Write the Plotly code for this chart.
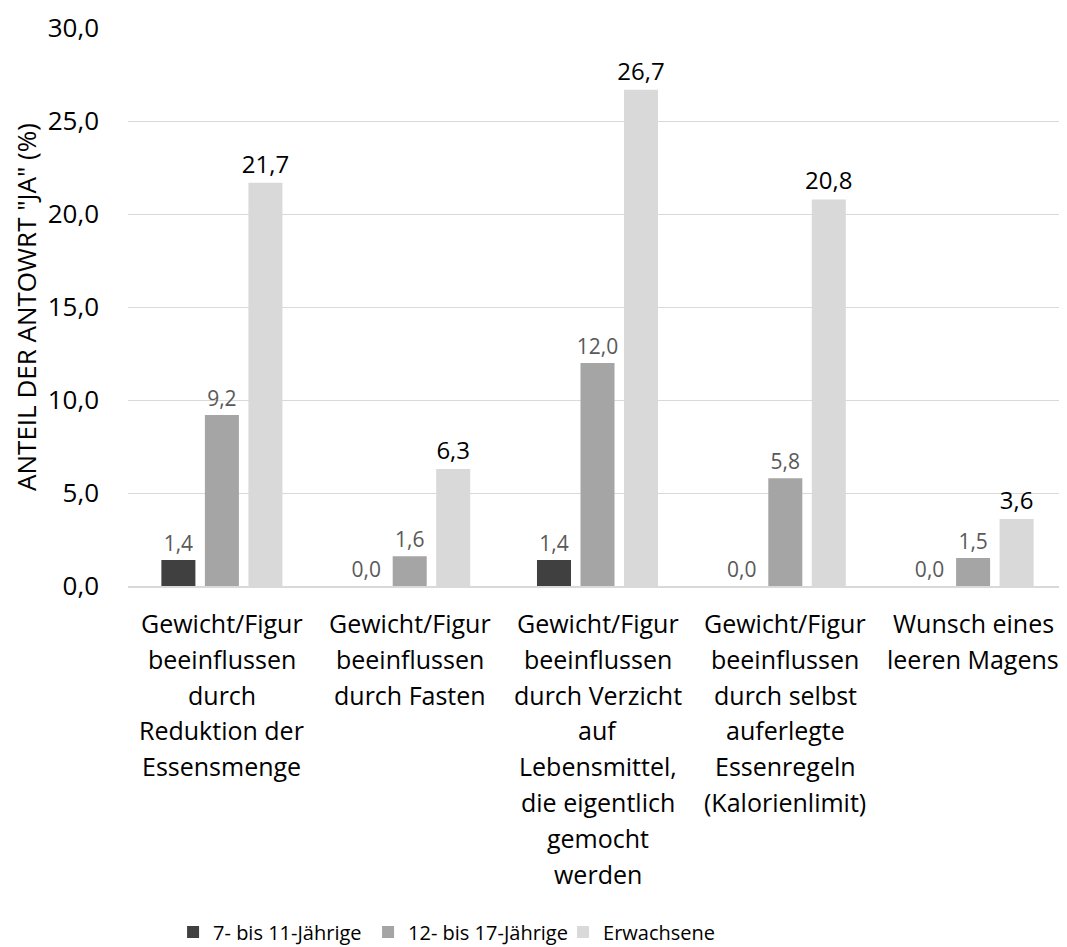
import plotly.graph_objects as go

# ---- data ----
category_lines = [
    ["Gewicht/Figur", "beeinflussen", "durch", "Reduktion der", "Essensmenge"],
    ["Gewicht/Figur", "beeinflussen", "durch Fasten"],
    ["Gewicht/Figur", "beeinflussen", "durch Verzicht", "auf", "Lebensmittel,",
     "die eigentlich", "gemocht", "werden"],
    ["Gewicht/Figur", "beeinflussen", "durch selbst", "auferlegte", "Essenregeln",
     "(Kalorienlimit)"],
    ["Wunsch eines", "leeren Magens"],
]
categories = [" ".join(l) for l in category_lines]

series_names = ["7- bis 11-Jährige", "12- bis 17-Jährige", "Erwachsene"]
kids_7_11 = [1.4, 0.0, 1.4, 0.0, 0.0]
teens_12_17 = [9.2, 1.6, 12.0, 5.8, 1.5]
adults = [21.7, 6.3, 26.7, 20.8, 3.6]

y_title = 'ANTEIL DER ANTOWRT "JA" (%)'

# ---- style ----
FONT = "Open Sans"
colors = ["#404040", "#a5a5a5", "#d9d9d9"]
label_colors = ["#595959", "#595959", "#000000"]
label_sizes = [21, 21, 24]


def fmt(v):
    return f"{v:.1f}".replace(".", ",")


fig = go.Figure()
for name, vals, c, lc, ls in zip(series_names, [kids_7_11, teens_12_17, adults],
                                 colors, label_colors, label_sizes):
    fig.add_trace(go.Bar(
        x=categories, y=vals, name=name,
        marker=dict(color=c, line=dict(width=0)),
        text=[fmt(v) for v in vals],
        textposition="outside",
        constraintext="none",
        textfont=dict(family=FONT, size=ls, color=lc),
        cliponaxis=False,
        hoverinfo="skip",
    ))

# category labels, one annotation per line for Excel-like line spacing
LINE_H = 35.8
annotations = []
for cat, lines in zip(categories, category_lines):
    for i, line in enumerate(lines):
        annotations.append(dict(
            x=cat, xref="x", y=0, yref="paper", yanchor="top",
            yshift=-(18 + i * LINE_H), text=line, showarrow=False,
            font=dict(family=FONT, size=25, color="#000000"),
        ))

# the page body has an 8px margin, so the figure is 8px smaller than the window
fig.update_layout(
    width=1059, height=939,
    margin=dict(l=120, r=0, t=20, b=361),
    paper_bgcolor="white", plot_bgcolor="white",
    separators=",.",
    barmode="group", bargap=0.305, bargroupgap=0.218,
    font=dict(family=FONT, color="#000000"),
    showlegend=True,
    legend=dict(orientation="h", x=0.048, xanchor="left",
                yref="container", y=0.016, yanchor="middle",
                font=dict(family=FONT, size=20, color="#000000"),
                entrywidth=150, itemsizing="constant"),
    annotations=annotations,
)
fig.update_xaxes(showticklabels=False, showgrid=False, ticks="",
                 showline=True, linecolor="#d9d9d9", linewidth=1.5, zeroline=False)
fig.update_yaxes(range=[0, 30.02], tickvals=[0, 5, 10, 15, 20, 25, 30], tickformat=".1f",
                 showgrid=True, gridcolor="#d9d9d9", gridwidth=1.3,
                 zeroline=False, showline=False, ticks="",
                 ticklabelstandoff=28,
                 tickfont=dict(family=FONT, size=26, color="#000000"),
                 title=dict(text=y_title, standoff=4,
                            font=dict(family=FONT, size=26, color="#000000")),
                 automargin=False)

fig.write_html("out.html")
